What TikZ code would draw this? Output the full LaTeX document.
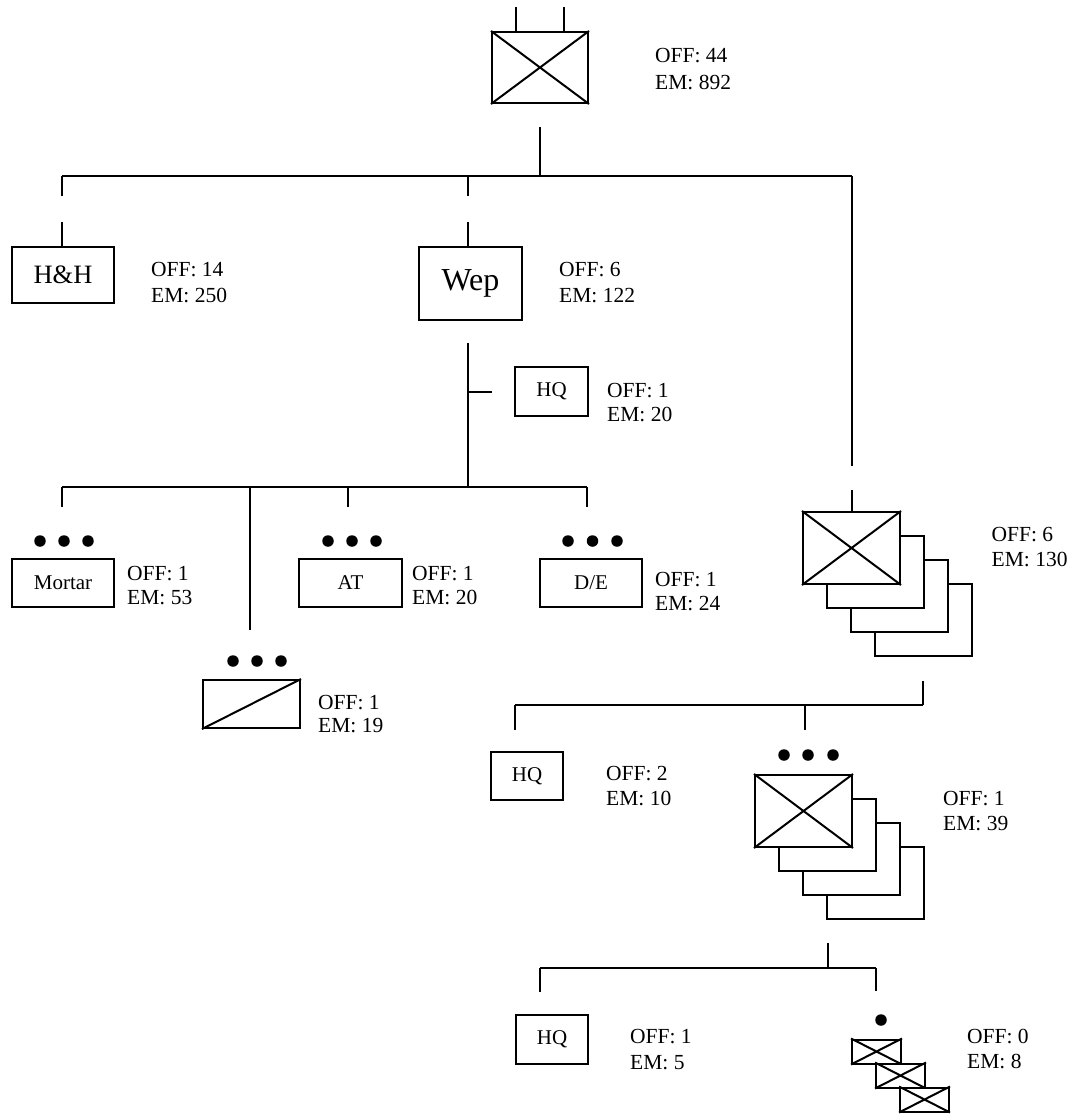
\documentclass[tikz,border=0pt]{standalone}
\usepackage{fontspec}
\setmainfont{Liberation Serif}
\begin{document}
\begin{tikzpicture}[x=1pt,y=-1pt,
  ln/.style={line width=2pt},
  bx/.style={draw, line width=2pt, rectangle, inner sep=0pt, fill=white, font=\fontsize{21}{24}\selectfont},
  lb/.style={anchor=base west, inner sep=0pt, font=\fontsize{21.5}{24}\selectfont},
  dt/.style={circle, fill=black, inner sep=0pt, minimum size=11.5pt}]
\useasboundingbox (0,0) rectangle (1072,1114);

% ---------- boxes ----------
\node[bx, minimum width=96pt, minimum height=71pt] (top) at (540,67.5) {};
\draw[ln] (top.north west) -- (top.south east) (top.north east) -- (top.south west);
\coordinate (p1) at (516,7); \coordinate (p2) at (564,7);
\draw[ln] (p1) -- (p1 |- top.north) (p2) -- (p2 |- top.north);

\node[bx, minimum width=102pt, minimum height=56pt, font=\fontsize{26.5}{28}\selectfont] (hh) at (63,275) {H\&H};
\node[bx, minimum width=103pt, minimum height=73pt, font=\fontsize{32}{34}\selectfont] (wep) at (470.5,283.5) {Wep};
\node[bx, minimum width=73pt, minimum height=49pt] (hq1) at (551.5,391.5) {HQ};

\node[bx, minimum width=102pt, minimum height=48pt] (mortar) at (63,583) {Mortar};
\node[bx, minimum width=103pt, minimum height=48pt] (at) at (350.5,583) {AT};
\node[bx, minimum width=102pt, minimum height=48pt] (de) at (591,583) {D/E};
\node[bx, minimum width=97pt, minimum height=48pt] (sl) at (251.5,704) {};
\draw[ln] (sl.south west) -- (sl.north east);

% dots
\foreach \n/\x/\y in {m1/40/541, m2/64/541, m3/88/541,
                      a1/328/541, a2/352/541, a3/376/541,
                      d1/568/541, d2/592.5/541, d3/617/541,
                      s1/233/661, s2/257/661, s3/281/661,
                      c1/784/755, c2/808/755, c3/833/755,
                      q1/881/1020}
  \node[dt] (\n) at (\x,\y) {};

% battalion stack
\node[bx, minimum width=97pt, minimum height=72pt] (bn4) at (923.5,620) {};
\node[bx, minimum width=97pt, minimum height=72pt] (bn3) at (899.5,596) {};
\node[bx, minimum width=97pt, minimum height=72pt] (bn2) at (875.5,572) {};
\node[bx, minimum width=97pt, minimum height=72pt] (bn1) at (851.5,548) {};
\draw[ln] (bn1.north west) -- (bn1.south east) (bn1.north east) -- (bn1.south west);

\node[bx, minimum width=72pt, minimum height=48pt] (hq2) at (527,776) {HQ};

% company stack
\node[bx, minimum width=97pt, minimum height=72pt] (co4) at (875.5,883) {};
\node[bx, minimum width=97pt, minimum height=72pt] (co3) at (851.5,859) {};
\node[bx, minimum width=97pt, minimum height=72pt] (co2) at (827.5,835) {};
\node[bx, minimum width=97pt, minimum height=72pt] (co1) at (803.5,811) {};
\draw[ln] (co1.north west) -- (co1.south east) (co1.north east) -- (co1.south west);

\node[bx, minimum width=72pt, minimum height=49pt] (hq3) at (552,1039.5) {HQ};

% platoon stack
\foreach \n/\x/\y in {pl1/876.5/1051.5, pl2/900.5/1075.5, pl3/924.5/1099.5}{
  \node[bx, minimum width=49pt, minimum height=24pt] (\n) at (\x,\y) {};
  \draw[ln] (\n.north west) -- (\n.south east) (\n.north east) -- (\n.south west);
}

% ---------- labels ----------
\foreach \n/\x/\ya/\yb/\o/\e in {
   lt/655/62.7/89/44/892,
   lh/151/276.7/302/14/250,
   lw/559/276.7/302/6/122,
   lq/607/397.3/421.7/1/20,
   lm/127/580/604/1/53,
   la/412/580/604/1/20,
   ld/655/586/610/1/24,
   ls/318/709.3/732.7/1/19,
   lb/991.5/541.7/566.7/6/130,
   lq2/606/780.7/805.7/2/10,
   lc/943/805.7/830.7/1/39,
   lq3/630/1043.3/1069.3/1/5,
   lp/967/1043.3/1068.3/0/8}{
  \node[lb] (\n a) at (\x,\ya) {OFF: \o};
  \node[lb] (\n b) at (\x,\yb) {EM: \e};
}

% ---------- connectors ----------
\coordinate (t0) at (540,127);
\coordinate (t1) at (540,176);
\coordinate (tl) at (62,176);
\coordinate (tr) at (852,176);
\coordinate (tm) at (468,176);
\draw[ln] (t0) -- (t1);
\draw[ln] (tl) -- (tr);
\coordinate (h1) at (62,196); \coordinate (h2) at (62,222);
\draw[ln] (tl) -- (h1); \draw[ln] (h2) -- (h2 |- hh.north);
\coordinate (w1) at (468,196); \coordinate (w2) at (468,222);
\draw[ln] (tm) -- (w1); \draw[ln] (w2) -- (w2 |- wep.north);
\coordinate (r1) at (852,466); \coordinate (r2) at (852,490);
\draw[ln] (tr) -- (r1); \draw[ln] (r2) -- (r2 |- bn1.north);

\coordinate (v0) at (468,343);
\coordinate (v1) at (468,487);
\coordinate (vq) at (468,392); \coordinate (vq2) at (492,392);
\draw[ln] (v0) -- (v1);
\draw[ln] (vq) -- (vq2);
\coordinate (bl) at (62,487); \coordinate (br) at (587,487);
\draw[ln] (bl) -- (br);
\coordinate (s62) at (62,507);  \draw[ln] (bl) -- (s62);
\coordinate (x250) at (250,487); \coordinate (s250) at (250,630); \draw[ln] (x250) -- (s250);
\coordinate (x348) at (348,487); \coordinate (s348) at (348,507); \draw[ln] (x348) -- (s348);
\coordinate (s587) at (587,507); \draw[ln] (br) -- (s587);

\coordinate (k0) at (923,681); \coordinate (k1) at (923,705);
\coordinate (kl) at (515,705); \coordinate (km) at (805,705);
\draw[ln] (k0) -- (k1);
\draw[ln] (kl) -- (k1);
\coordinate (kl2) at (515,730); \draw[ln] (kl) -- (kl2);
\coordinate (km2) at (805,730); \draw[ln] (km) -- (km2);

\coordinate (g0) at (828,943); \coordinate (g1) at (828,968);
\coordinate (gl) at (540,968); \coordinate (gr) at (876,968);
\draw[ln] (g0) -- (g1);
\draw[ln] (gl) -- (gr);
\coordinate (gl2) at (540,992); \draw[ln] (gl) -- (gl2);
\coordinate (gr2) at (876,991); \draw[ln] (gr) -- (gr2);
\end{tikzpicture}
\end{document}
